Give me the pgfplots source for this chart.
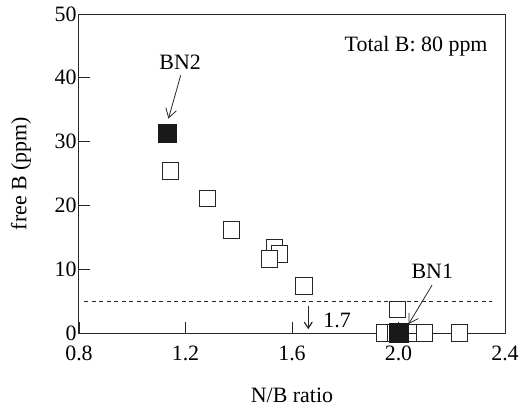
\documentclass[border=0pt]{standalone}
\usepackage{fontspec}
\setmainfont{Liberation Serif}
\usepackage{pgfplots}
\pgfplotsset{compat=1.18}
\usetikzlibrary{arrows.meta}
\begin{document}
\begin{tikzpicture}
\begin{axis}[
  scale only axis,
  width=426bp, height=319bp,
  xmin=0.8, xmax=2.4, ymin=0, ymax=50,
  xtick={0.8,1.2,1.6,2.0,2.4},
  ytick={0,10,20,30,40,50},
  xticklabels={0.8,1.2,1.6,2.0,2.4},
  xtick pos=left, ytick pos=left,
  tick align=inside,
  major tick length=11bp,
  axis line style={line width=1bp, black!85},
  tick style={line width=0.8bp, black!85},
  font=\fontsize{22}{26}\selectfont,
  /pgf/number format/assume math mode=true,
  xticklabel style={yshift=-9bp},
  yticklabel style={xshift=1bp},
  xlabel={N/B ratio},
  ylabel={free B (ppm)},
  xlabel style={at={(axis description cs:0.5,0)}, anchor=center, yshift=-62bp},
  ylabel style={at={(axis description cs:-0.136,0.5)}, anchor=center},
  clip=false,
]
% dashed threshold
\addplot[black!85, line width=0.8bp, dash pattern=on 4bp off 3.5bp] coordinates {(0.82,5) (2.35,5)};
% open squares
\addplot[only marks, mark=square*, mark size=8.3bp,
  mark options={fill=white, draw=black!85, line width=1bp}] coordinates {
  (1.143,25.4) (1.282,21.1) (1.373,16.1)
  (1.534,13.3) (1.553,12.4) (1.515,11.6)
  (1.645,7.4) (1.996,3.7)
  (1.947,0) (1.988,0)
};
\addplot[only marks, mark=square, mark size=8.3bp,
  mark options={draw=black!85, line width=1bp}] coordinates {(2.044,0)};
\addplot[only marks, mark=square*, mark size=8.3bp,
  mark options={fill=white, draw=black!85, line width=1bp}] coordinates {
  (2.098,0) (2.229,0)
};
% filled squares
\addplot[only marks, mark=square*, mark size=9.3bp,
  mark options={fill=black!90, draw=black!90, line width=0.5bp}] coordinates {
  (1.132,31.3) (2.000,0)
};
% annotations
\node[anchor=east, inner sep=0] at (axis cs:2.335,45.0) {Total B: 80 ppm};
\node[inner sep=0] at (axis cs:1.18,42.5) {BN2};
\draw[black!85, line width=0.8bp, -{Straight Barb[length=9bp,width=11bp]}] (axis cs:1.182,40.4) -- (axis cs:1.136,33.6);
\node[inner sep=0] at (axis cs:2.127,9.6) {BN1};
\draw[black!85, line width=0.8bp, -{Straight Barb[length=9bp,width=11bp]}] (axis cs:2.126,7.5) -- (axis cs:2.038,1.4);
\draw[black!85, line width=1.2bp, -{Straight Barb[length=6bp,width=8bp]}] (axis cs:1.661,4.3) -- (axis cs:1.661,0.6);
\node[anchor=west, inner sep=0] at (axis cs:1.717,2.0) {1.7};
\end{axis}
\pgfresetboundingbox
\path[use as bounding box] (-79bp,-78bp) rectangle (442bp,333bp);
\end{tikzpicture}
\end{document}
